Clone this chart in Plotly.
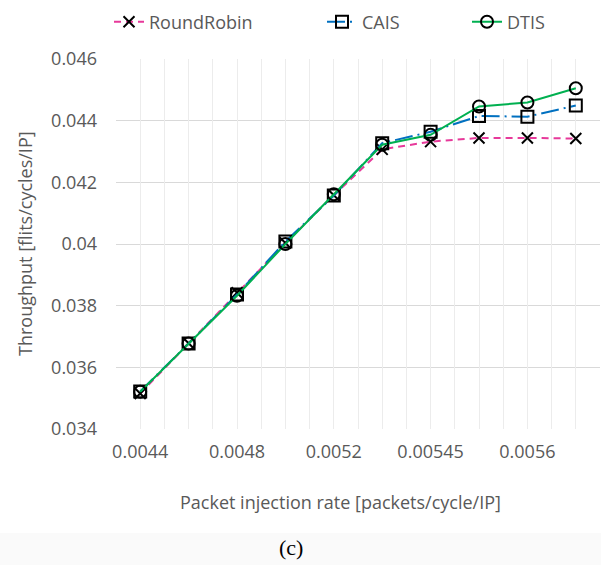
import plotly.graph_objects as go

# ---- data ----
categories = ["0.0044", "0.0046", "0.0048", "0.005", "0.0052",
              "0.0054", "0.00545", "0.0055", "0.0056", "0.0057"]
label_categories = ["0.0044", "0.0048", "0.0052", "0.00545", "0.0056"]
round_robin = [0.03515, 0.03678, 0.03842, 0.04003, 0.04158,
               0.04307, 0.04332, 0.04344, 0.04344, 0.04342]
cais = [0.03522, 0.03677, 0.03836, 0.04008, 0.04157,
        0.04327, 0.04364, 0.04415, 0.04413, 0.04449]
dtis = [0.03521, 0.03677, 0.03832, 0.04000, 0.04161,
        0.04322, 0.04354, 0.04446, 0.04459, 0.04505]
y_ticks = [0.034, 0.036, 0.038, 0.040, 0.042, 0.044, 0.046]
y_tick_text = ["0.034", "0.036", "0.038", "0.04", "0.042", "0.044", "0.046"]

FONT = "Open Sans"
TXT = "#595959"

W, H = 601, 565
L, R, T, B = 116, 1, 59, 136
plot_h = H - T - B
plot_w = W - L - R


def px_x(px):
    return (px - L) / plot_w


def px_y(py):
    return (H - B - py) / plot_h


fig = go.Figure()

fig.add_trace(go.Scatter(
    x=categories, y=round_robin, name="RoundRobin", mode="lines+markers",
    legend="legend",
    line=dict(color="#E7399A", width=2, dash="7px,5px"),
    marker=dict(symbol="x-thin-open", size=11, color="black",
                line=dict(color="black", width=2)),
))
fig.add_trace(go.Scatter(
    x=categories, y=cais, name="CAIS", mode="lines+markers",
    legend="legend2",
    line=dict(color="#0070C0", width=2, dash="18px,5px,2px,5px"),
    marker=dict(symbol="square-open", size=12, color="black",
                line=dict(color="black", width=2)),
))
fig.add_trace(go.Scatter(
    x=categories, y=dtis, name="DTIS", mode="lines+markers",
    legend="legend3",
    line=dict(color="#00B050", width=2),
    marker=dict(symbol="circle-open", size=12, color="black",
                line=dict(color="black", width=2)),
))
# empty trace to carry the overlay axis used for the vertical grid
fig.add_trace(go.Scatter(x=[], y=[], xaxis="x2", showlegend=False,
                         hoverinfo="skip"))


def legend_at(px):
    return dict(orientation="h", x=px_x(px), y=px_y(22),
                xanchor="left", yanchor="middle",
                font=dict(family=FONT, size=18, color=TXT),
                bgcolor="rgba(0,0,0,0)", itemwidth=30)


fig.update_layout(
    width=W, height=H,
    margin=dict(l=L, r=R, t=T, b=B, autoexpand=False),
    paper_bgcolor="white", plot_bgcolor="white",
    font=dict(family=FONT, size=18, color=TXT),
    showlegend=True,
    legend=legend_at(109),
    legend2=legend_at(322),
    legend3=legend_at(467),
    xaxis=dict(type="category", categoryorder="array",
               categoryarray=categories,
               range=[-0.5, len(categories) - 0.5],
               tickmode="array", tickvals=label_categories,
               ticktext=label_categories,
               showgrid=False, zeroline=False, showline=False,
               ticks="", ticklabelstandoff=10,
               tickfont=dict(family=FONT, size=18, color=TXT)),
    xaxis2=dict(overlaying="x", type="linear",
                range=[-0.5, len(categories) - 0.5],
                tick0=-0.5, dtick=0.5, showgrid=True,
                gridcolor="#ECECEC", gridwidth=1.3,
                showticklabels=False, zeroline=False, showline=False,
                ticks="", fixedrange=True),
    yaxis=dict(range=[y_ticks[0], y_ticks[-1]],
               tickmode="array", tickvals=y_ticks, ticktext=y_tick_text,
               showgrid=True, gridcolor="#D9D9D9", gridwidth=1.3,
               zeroline=False, showline=False, ticks="",
               ticklabelstandoff=18,
               tickfont=dict(family=FONT, size=18, color=TXT)),
    annotations=[
        dict(text="Packet injection rate [packets/cycle/IP]",
             xref="paper", yref="paper", x=px_x(340), y=px_y(502),
             xanchor="center", yanchor="middle", showarrow=False,
             font=dict(family=FONT, size=18, color=TXT)),
        dict(text="Throughput [flits/cycles/IP]",
             xref="paper", yref="paper", x=px_x(25), y=px_y(244),
             xanchor="center", yanchor="middle", showarrow=False,
             textangle=-90,
             font=dict(family=FONT, size=18, color=TXT)),
        dict(text="(c)",
             xref="paper", yref="paper", x=px_x(291), y=px_y(547),
             xanchor="center", yanchor="middle", showarrow=False,
             font=dict(family="Liberation Serif", size=22, color="black")),
    ],
    shapes=[
        dict(type="rect", xref="paper", yref="paper",
             x0=px_x(0), x1=px_x(W), y0=px_y(533), y1=px_y(H),
             fillcolor="#FAFAFA", line=dict(width=0), layer="below"),
    ],
)

fig.write_html(
    "out.html",
    config={"displayModeBar": False},
    post_script="document.body.style.margin='0';"
                "document.body.style.padding='0';"
                "document.body.style.overflow='hidden';",
)
